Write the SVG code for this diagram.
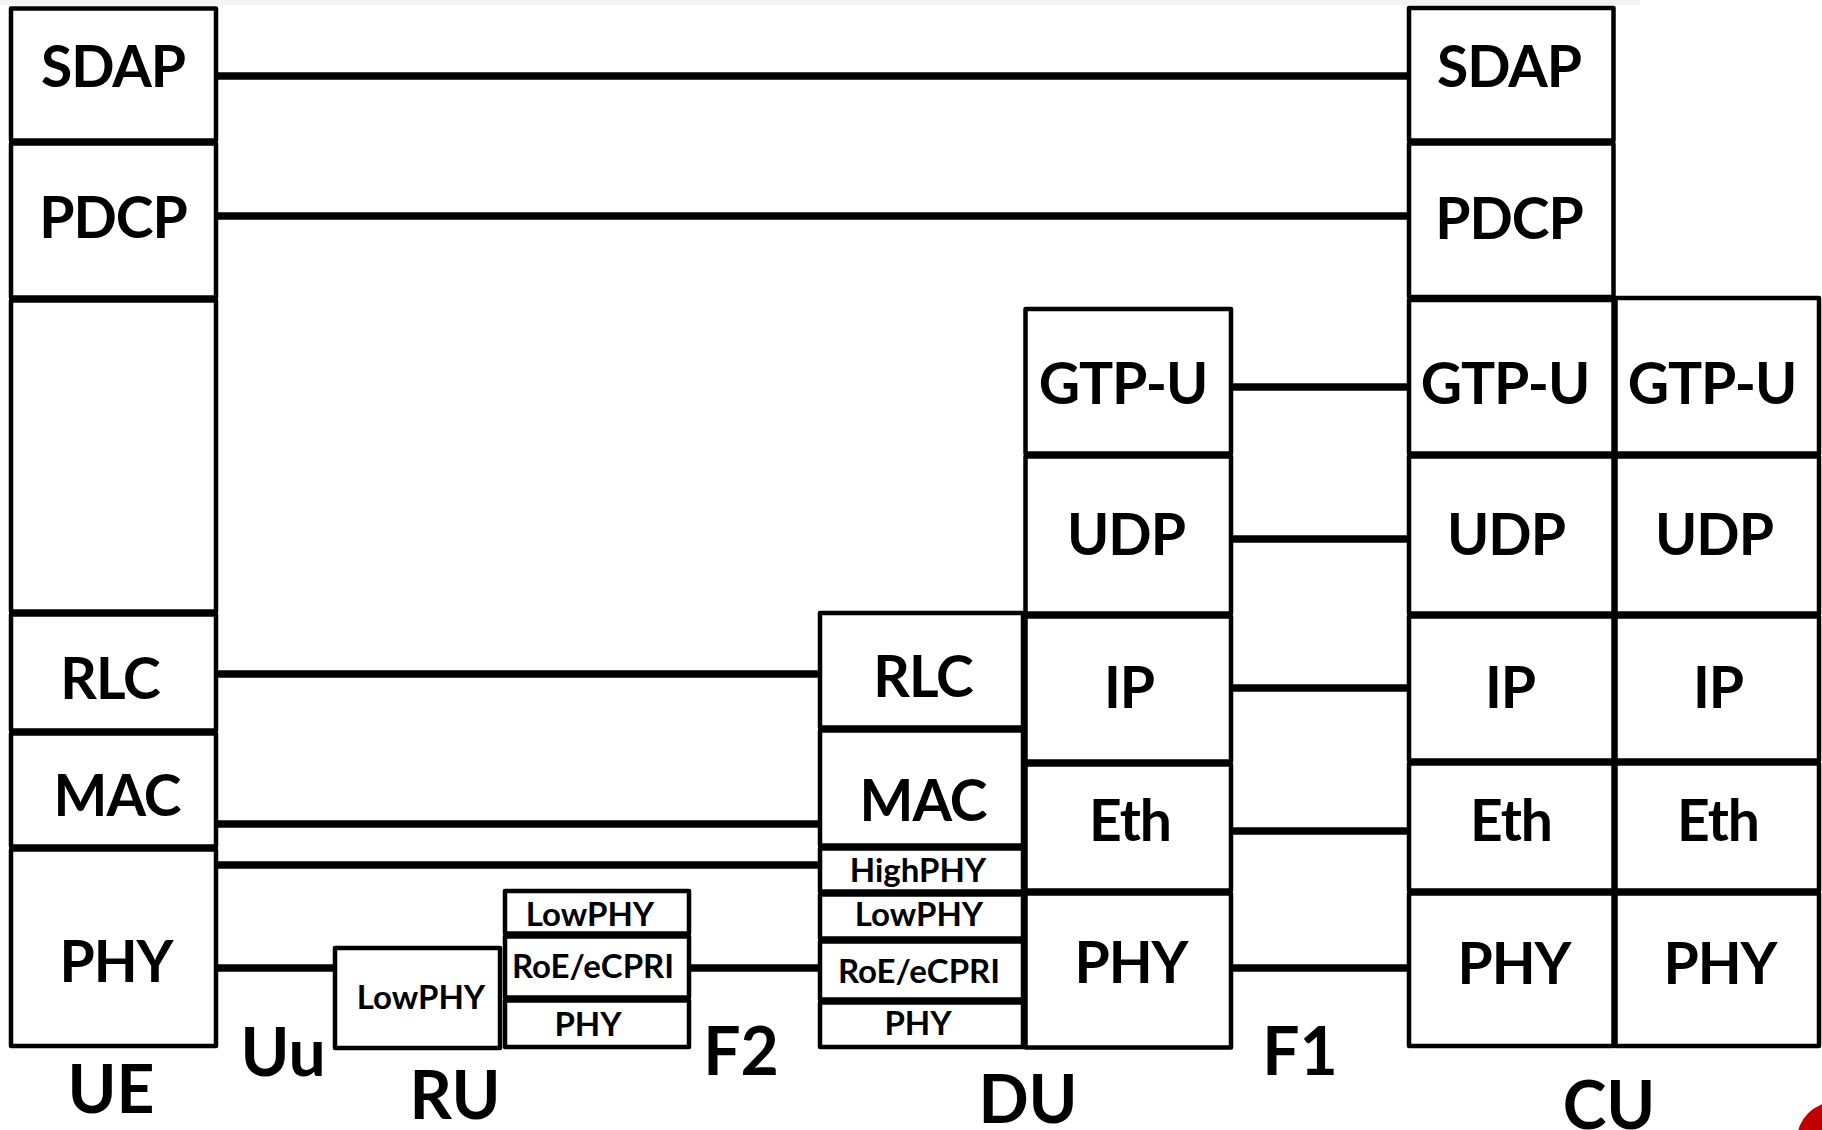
<svg xmlns="http://www.w3.org/2000/svg" width="1822" height="1130" viewBox="0 0 1822 1130">
<style>
.cell{fill:#fff;stroke:#000;stroke-width:4.5;stroke-linejoin:round}
.conn{stroke:#000;stroke-width:7.5;fill:none}
text{font-family:Lato,"Open Sans","Liberation Sans",sans-serif;font-weight:bold;fill:#000;text-anchor:middle}
.big{font-size:57px;letter-spacing:-1px}
.small{font-size:33px}
.lbl{font-size:66px}
</style>
<rect x="0" y="0" width="1640" height="5" fill="#f3f3f3"/>
<g id="connectors">
<line class="conn" x1="216" y1="76" x2="1409" y2="76"/>
<line class="conn" x1="216" y1="216" x2="1409" y2="216"/>
<line class="conn" x1="216" y1="674" x2="820" y2="674"/>
<line class="conn" x1="216" y1="824" x2="820" y2="824"/>
<line class="conn" x1="216" y1="865" x2="820" y2="865"/>
<line class="conn" x1="216" y1="968" x2="335" y2="968"/>
<line class="conn" x1="689" y1="968" x2="820" y2="968"/>
<line class="conn" x1="1231" y1="387" x2="1409" y2="387"/>
<line class="conn" x1="1231" y1="539" x2="1409" y2="539"/>
<line class="conn" x1="1231" y1="688" x2="1409" y2="688"/>
<line class="conn" x1="1231" y1="831" x2="1409" y2="831"/>
<line class="conn" x1="1231" y1="968" x2="1409" y2="968"/>
</g>
<!-- UE -->
<g id="ue-sdap"><rect class="cell" x="11" y="8.5" width="205" height="132"/><text class="big" x="113" y="87">SDAP</text></g>
<g id="ue-pdcp"><rect class="cell" x="11" y="143.5" width="205" height="154"/><text class="big" x="113" y="238">PDCP</text></g>
<g id="ue-empty"><rect class="cell" x="11" y="300.5" width="205" height="311"/></g>
<g id="ue-rlc"><rect class="cell" x="11" y="614.5" width="205" height="116"/><text class="big" x="110" y="699">RLC</text></g>
<g id="ue-mac"><rect class="cell" x="11" y="733.5" width="205" height="113"/><text class="big" x="117" y="816">MAC</text></g>
<g id="ue-phy"><rect class="cell" x="11" y="849.5" width="205" height="196.5"/><text class="big" x="116" y="982">PHY</text></g>
<!-- RU -->
<g id="ru-lowphy"><rect class="cell" x="335" y="948" width="165" height="100"/><text class="small" x="421" y="1009">LowPHY</text></g>
<g id="ru-lowphy2"><rect class="cell" x="505" y="891" width="184" height="42.5"/><text class="small" x="590" y="926">LowPHY</text></g>
<g id="ru-roe"><rect class="cell" x="505" y="936.5" width="184" height="61"/><text class="small" x="593" y="978">RoE/eCPRI</text></g>
<g id="ru-phy"><rect class="cell" x="505" y="1000.5" width="184" height="46.5"/><text class="small" x="588" y="1036">PHY</text></g>
<!-- DU left -->
<g id="du-rlc"><rect class="cell" x="820" y="613" width="203" height="114.5"/><text class="big" x="923" y="697">RLC</text></g>
<g id="du-mac"><rect class="cell" x="820" y="730.5" width="203" height="115"/><text class="big" x="923" y="821">MAC</text></g>
<g id="du-highphy"><rect class="cell" x="820" y="848.5" width="203" height="43"/><text class="small" x="918" y="882">HighPHY</text></g>
<g id="du-lowphy"><rect class="cell" x="820" y="894.5" width="203" height="44"/><text class="small" x="919" y="926">LowPHY</text></g>
<g id="du-roe"><rect class="cell" x="820" y="941.5" width="203" height="58"/><text class="small" x="919" y="983">RoE/eCPRI</text></g>
<g id="du-phy"><rect class="cell" x="820" y="1002.5" width="203" height="44.5"/><text class="small" x="918" y="1035">PHY</text></g>
<!-- DU right -->
<g id="du-gtpu"><rect class="cell" x="1025.5" y="309" width="205.5" height="144.5"/><text class="big" x="1123" y="404">GTP-U</text></g>
<g id="du-udp"><rect class="cell" x="1025.5" y="456.5" width="205.5" height="157"/><text class="big" x="1126" y="555">UDP</text></g>
<g id="du-ip"><rect class="cell" x="1025.5" y="616.5" width="205.5" height="145"/><text class="big" x="1129" y="708">IP</text></g>
<g id="du-eth"><rect class="cell" x="1025.5" y="764.5" width="205.5" height="126"/><text class="big" x="1130" y="841">Eth</text></g>
<g id="du-phy2"><rect class="cell" x="1025.5" y="893.5" width="205.5" height="154"/><text class="big" x="1131" y="983">PHY</text></g>
<!-- CU left -->
<g id="cu-sdap"><rect class="cell" x="1409" y="8" width="204.5" height="132.5"/><text class="big" x="1509" y="87">SDAP</text></g>
<g id="cu-pdcp"><rect class="cell" x="1409" y="143.5" width="204.5" height="153.5"/><text class="big" x="1509" y="239">PDCP</text></g>
<g id="cu-gtpu"><rect class="cell" x="1409" y="300" width="204.5" height="153.5"/><text class="big" x="1505" y="404">GTP-U</text></g>
<g id="cu-udp"><rect class="cell" x="1409" y="456.5" width="204.5" height="157"/><text class="big" x="1506" y="555">UDP</text></g>
<g id="cu-ip"><rect class="cell" x="1409" y="616.5" width="204.5" height="144"/><text class="big" x="1510" y="708">IP</text></g>
<g id="cu-eth"><rect class="cell" x="1409" y="763.5" width="204.5" height="127"/><text class="big" x="1511" y="841">Eth</text></g>
<g id="cu-phy"><rect class="cell" x="1409" y="893.5" width="204.5" height="152.5"/><text class="big" x="1514" y="984">PHY</text></g>
<!-- CU right -->
<g id="cu2-gtpu"><rect class="cell" x="1615.5" y="298" width="203.5" height="155.5"/><text class="big" x="1712" y="404">GTP-U</text></g>
<g id="cu2-udp"><rect class="cell" x="1615.5" y="456.5" width="203.5" height="157"/><text class="big" x="1714" y="555">UDP</text></g>
<g id="cu2-ip"><rect class="cell" x="1615.5" y="616.5" width="203.5" height="144"/><text class="big" x="1718" y="708">IP</text></g>
<g id="cu2-eth"><rect class="cell" x="1615.5" y="763.5" width="203.5" height="127"/><text class="big" x="1718" y="841">Eth</text></g>
<g id="cu2-phy"><rect class="cell" x="1615.5" y="893.5" width="203.5" height="152.5"/><text class="big" x="1720" y="984">PHY</text></g>
<!-- labels -->
<g id="labels">
<text class="lbl" x="111" y="1113">UE</text>
<text class="lbl" x="283" y="1076">Uu</text>
<text class="lbl" x="455" y="1119">RU</text>
<text class="lbl" x="741" y="1075">F2</text>
<text class="lbl" x="1028" y="1123">DU</text>
<text class="lbl" x="1609" y="1129">CU</text>
<text class="lbl" x="1300" y="1075">F1</text>
</g>
<circle cx="1835" cy="1140" r="38" fill="#c00000"/>
</svg>
